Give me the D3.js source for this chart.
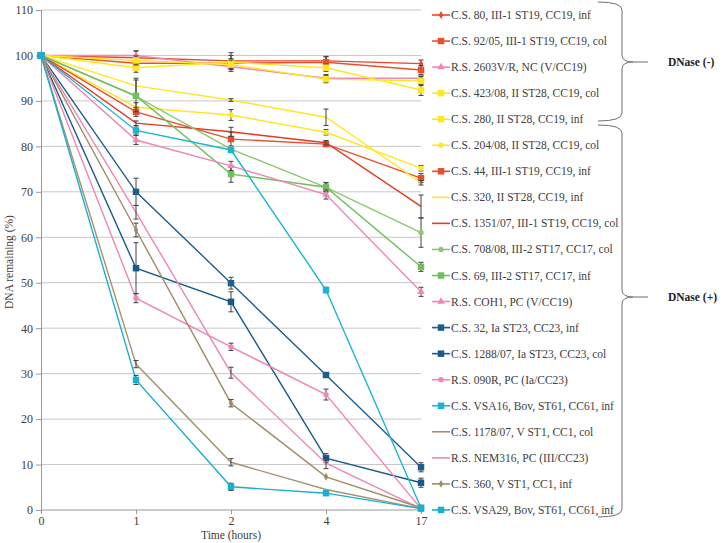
<!DOCTYPE html>
<html>
<head>
<meta charset="utf-8">
<script src="https://cdn.jsdelivr.net/npm/d3@7"></script>
<style>
  body { margin: 0; background: #fff; }
</style>
</head>
<body>
<svg id="chart" width="723" height="543"></svg>
<script>
// sampling times (hours), shown as evenly spaced categories
const times = ["0", "1", "2", "4", "17"];
const yTicks = [0, 10, 20, 30, 40, 50, 60, 70, 80, 90, 100, 110];

const strains = [
    "C.S. 80, III-1 ST19, CC19, inf",
    "C.S. 92/05, III-1 ST19, CC19, col",
    "R.S. 2603V/R, NC (V/CC19)",
    "C.S. 423/08, II ST28, CC19, col",
    "C.S. 280, II ST28, CC19, inf",
    "C.S. 204/08, II ST28, CC19, col",
    "C.S. 44, III-1 ST19, CC19, inf",
    "C.S. 320, II ST28, CC19, inf",
    "C.S. 1351/07, III-1 ST19, CC19, col",
    "C.S. 708/08, III-2 ST17, CC17, col",
    "C.S. 69, III-2 ST17, CC17, inf",
    "R.S. COH1, PC (V/CC19)",
    "C.S. 32, Ia ST23, CC23, inf",
    "C.S. 1288/07, Ia ST23, CC23, col",
    "R.S. 090R, PC (Ia/CC23)",
    "C.S. VSA16, Bov, ST61, CC61, inf",
    "C.S. 1178/07, V ST1, CC1, col",
    "R.S. NEM316, PC (III/CC23)",
    "C.S. 360, V ST1, CC1, inf",
    "C.S. VSA29, Bov, ST61, CC61, inf"
];

// DNA remaining (%) at each time, one row per strain
const remaining = [
    [100, 99.5, 98.8, 98.8, 98.2],
    [100, 98.3, 98.3, 98.5, 96.8],
    [100, 100, 97.5, 95.0, 95.0],
    [100, 97.3, 98.5, 97.3, 92.4],
    [100, 98.9, 98.0, 94.8, 94.4],
    [100, 88.6, 86.9, 83.1, 75.2],
    [100, 87.6, 81.6, 80.5, 73.0],
    [100, 93.3, 90.2, 86.4, 72.0],
    [100, 85.1, 83.2, 80.8, 66.8],
    [100, 91.0, 79.4, 71.0, 61.0],
    [100, 91.1, 73.9, 71.0, 53.5],
    [100, 81.4, 75.7, 69.4, 48.0],
    [100, 70.0, 49.9, 29.7, 9.4],
    [100, 53.2, 45.8, 11.4, 6.0],
    [100, 46.6, 35.9, 25.4, 0.3],
    [100, 83.5, 79.2, 48.4, 0.5],
    [100, 32.1, 10.5, 4.5, 0.3],
    [100, 65.5, 30.2, 10.3, 0.3],
    [100, 61.6, 23.5, 7.3, 0.5],
    [100, 28.6, 5.1, 3.7, 0.3]
];

// error bar half-widths (%)
const errors = [
    [0, 1.5, 1.8, 1.0, 0.8],
    [0, 1.2, 1.0, 1.2, 1.0],
    [0, 1.0, 1.0, 0.8, 0.5],
    [0, 1.0, 1.5, 0.8, 1.2],
    [0, 1.0, 1.0, 0.8, 1.0],
    [0, 1.0, 1.2, 0.6, 0.6],
    [0, 1.0, 1.5, 0.5, 1.0],
    [0, 1.7, 0.3, 1.8, 0.5],
    [0, 0.5, 1.0, 0.5, 2.5],
    [0, 0, 0, 1.0, 3.2],
    [0, 3.5, 1.8, 1.0, 1.0],
    [0, 1.0, 1.0, 1.0, 1.0],
    [0, 3.0, 1.3, 0, 1.0],
    [0, 5.6, 2.2, 1.0, 1.0],
    [0, 1.0, 0.8, 1.2, 0],
    [0, 1.0, 0.5, 0.6, 0],
    [0, 0.8, 0.8, 0, 0],
    [0, 1.5, 1.2, 1.2, 0],
    [0, 1.5, 0.8, 0, 0],
    [0, 1.0, 0.8, 0, 0]
];

const colors = [
    "#E8472B", "#E8502F", "#EE86B6", "#FFE625", "#FFE625",
    "#FFE625", "#E84E2C", "#FFE625", "#E23B22", "#8DC86F",
    "#72BE5C", "#EE86B6", "#1F5E8C", "#1A5A88", "#EE86B6",
    "#1AB5D2", "#A39370", "#EE86B6", "#A08C68", "#1AAFD0"
];
const markers = [
    "diamond", "square", "triangle", "square", "square",
    "circle", "square", "none", "none", "circle",
    "square", "triangle", "square", "square", "circle",
    "square", "none", "none", "diamond", "square"
];

const groups = [
    { label: "DNase (-)", top: 2, bottom: 121, tip: 62 },
    { label: "DNase (+)", top: 125, bottom: 517, tip: 297 }
];

const serif = "'Liberation Serif', 'Times New Roman', Times, serif";

const svg = d3.select("#chart");
const x = d3.scalePoint().domain(times).range([41, 421]);
const y = d3.scaleLinear().domain([0, 110]).range([510, 10]);

// gridlines
svg.append("g")
    .selectAll("line")
    .data(yTicks.filter(d => d > 0))
    .join("line")
    .attr("x1", 41).attr("x2", 421)
    .attr("y1", d => y(d)).attr("y2", d => y(d))
    .attr("stroke", "#c8c8c8").attr("stroke-width", 1);

// axes
const yAxis = svg.append("g")
    .attr("transform", "translate(41,0)")
    .call(d3.axisLeft(y).tickValues(yTicks).tickSize(5).tickPadding(3));
const xAxis = svg.append("g")
    .attr("transform", "translate(0,510)")
    .call(d3.axisBottom(x).tickSize(4).tickPadding(2));
[yAxis, xAxis].forEach(a => {
    a.attr("font-family", serif).attr("font-size", 12);
    a.select(".domain").attr("stroke", "#999");
    a.selectAll(".tick line").attr("stroke", "#999");
    a.selectAll(".tick text").attr("fill", "#404040");
});
xAxis.select(".domain").attr("d", "M41,0H421");

svg.append("text")
    .attr("transform", "translate(13,262) rotate(-90)")
    .attr("text-anchor", "middle")
    .attr("font-family", serif).attr("font-size", 11.5)
    .attr("fill", "#404040")
    .text("DNA remaining (%)");
svg.append("text")
    .attr("x", 231).attr("y", 539)
    .attr("text-anchor", "middle")
    .attr("font-family", serif).attr("font-size", 11.5)
    .attr("fill", "#404040")
    .text("Time (hours)");

const symbolType = {
    square: d3.symbolSquare,
    circle: d3.symbolCircle,
    triangle: d3.symbolTriangle,
    diamond: d3.symbolDiamond
};
const symbolSize = { square: 42, circle: 22, triangle: 24, diamond: 18 };

function symbolPath(kind) {
    return d3.symbol().type(symbolType[kind]).size(symbolSize[kind])();
}

const line = d3.line()
    .x((d, i) => x(times[i]))
    .y(d => y(d));

const series = strains.map((name, i) => ({
    name, i,
    values: remaining[i],
    err: errors[i],
    color: colors[i],
    marker: markers[i]
}));

const plot = svg.append("g");
series.forEach(s => {
    const g = plot.append("g");
    g.append("path")
        .attr("d", line(s.values))
        .attr("fill", "none")
        .attr("stroke", s.color)
        .attr("stroke-width", 1.4);

    // error bars
    s.values.forEach((v, j) => {
        const e = s.err[j];
        if (!e) return;
        const cx = x(times[j]);
        g.append("path")
            .attr("d", `M${cx},${y(v + e)}V${y(v - e)}M${cx - 2.5},${y(v + e)}H${cx + 2.5}M${cx - 2.5},${y(v - e)}H${cx + 2.5}`)
            .attr("stroke", "#404040")
            .attr("stroke-width", 1)
            .attr("fill", "none");
    });

    if (s.marker !== "none") {
        g.selectAll(".mk")
            .data(s.values)
            .join("path")
            .attr("class", "mk")
            .attr("transform", (d, j) => `translate(${x(times[j])},${y(d)})`)
            .attr("d", symbolPath(s.marker))
            .attr("fill", s.color);
    }
});

// legend
const legend = svg.append("g")
    .attr("font-family", serif)
    .attr("font-size", 11.5);
series.forEach(s => {
    const ly = 15 + s.i * 26.05;
    const row = legend.append("g").attr("transform", `translate(0,${ly})`);
    row.append("line")
        .attr("x1", 432).attr("x2", 450)
        .attr("stroke", s.color).attr("stroke-width", 1.6);
    if (s.marker !== "none") {
        row.append("path")
            .attr("transform", "translate(441,0)")
            .attr("d", symbolPath(s.marker))
            .attr("fill", s.color);
    }
    row.append("text")
        .attr("x", 451).attr("dy", "0.35em")
        .attr("fill", "#404040")
        .text(s.name);
});

// braces grouping the strains by treatment
function brace(xv, top, bottom, tip) {
    const w = 24;
    return `M${xv - w},${top} Q${xv},${top} ${xv},${top + 8}` +
        ` L${xv},${tip - 7} Q${xv},${tip} ${xv + 11},${tip}` +
        ` Q${xv},${tip} ${xv},${tip + 7}` +
        ` L${xv},${bottom - 8} Q${xv},${bottom} ${xv - w},${bottom}`;
}
groups.forEach(gr => {
    svg.append("path")
        .attr("d", brace(622, gr.top, gr.bottom, gr.tip))
        .attr("fill", "none").attr("stroke", "#707070").attr("stroke-width", 1);
    svg.append("line")
        .attr("x1", 633).attr("x2", 648)
        .attr("y1", gr.tip).attr("y2", gr.tip)
        .attr("stroke", "#707070").attr("stroke-width", 1);
    svg.append("text")
        .attr("x", 668).attr("y", gr.tip).attr("dy", "0.35em")
        .attr("font-family", serif).attr("font-size", 11.5)
        .attr("font-weight", "bold")
        .attr("fill", "#222")
        .text(gr.label);
});
</script>
</body>
</html>
